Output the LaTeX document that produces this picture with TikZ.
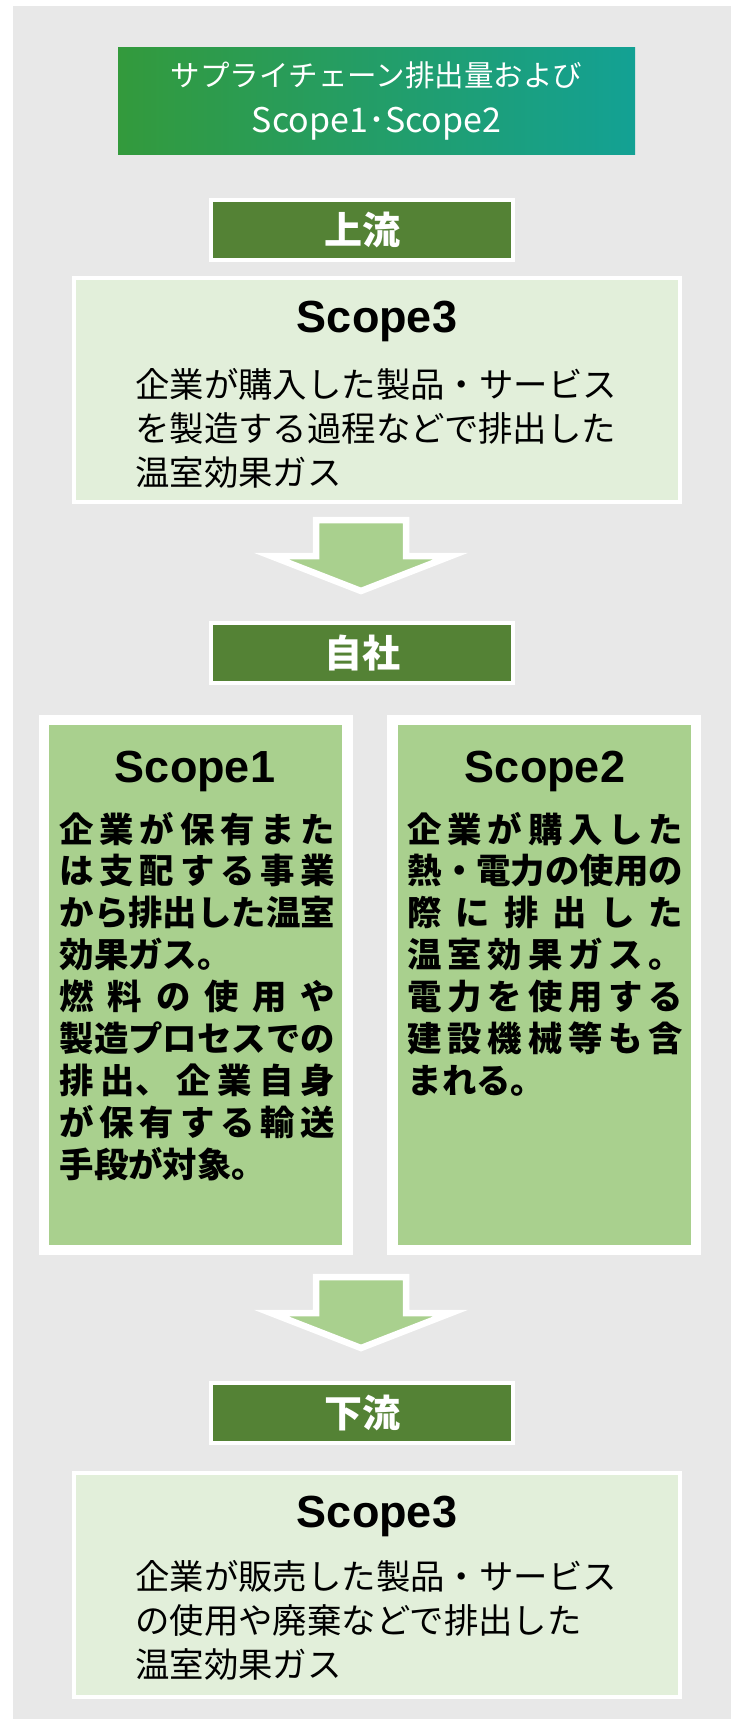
\documentclass[tikz,border=0pt]{standalone}
\usepackage{fontspec}
\setmainfont{Noto Sans CJK JP}
\newfontfamily\latinbold{Liberation Sans}
\definecolor{bggray}{HTML}{E8E8E8}
\definecolor{titleleft}{HTML}{339A3C}
\definecolor{titleright}{HTML}{13A194}
\definecolor{darkleaf}{HTML}{548235}
\definecolor{paleleaf}{HTML}{E2EFDA}
\definecolor{midleaf}{HTML}{A9D08E}
\def\spreadnext#1{\ifx#1\relax\else\ifx#1、\else\hfil\fi#1\expandafter\spreadnext\fi}
\def\spreadfirst#1{#1\spreadnext}
\newcommand\spread[1]{\makebox[8em][s]{\spreadfirst#1\relax}}

\begin{document}
\begin{tikzpicture}[x=1pt,y=-1pt,
	titlebox/.style={left color=titleleft,right color=titleright,minimum width=517pt,minimum height=107pt,inner sep=0pt,text=white,align=center,font=\fontsize{29.5}{46}\selectfont},
	stagebox/.style={draw=white,line width=4pt,fill=darkleaf,minimum width=302pt,minimum height=60pt,inner sep=0pt,text=white,font=\fontsize{38}{38}\selectfont\bfseries},
	scopewide/.style={draw=white,line width=4.5pt,fill=paleleaf,minimum width=606pt,minimum height=224pt,inner sep=0pt},
	scopetall/.style={draw=white,line width=10.5pt,fill=midleaf,minimum width=303.5pt,minimum height=530pt,inner sep=0pt},
	scopehead/.style={anchor=base,inner sep=0pt,font=\latinbold\fontsize{45}{45}\selectfont\bfseries},
	bodytext/.style={anchor=base west,inner sep=0pt,align=left,text width=482pt,font=\fontsize{34.4}{44}\selectfont},
	boldtext/.style={anchor=base west,inner sep=0pt,align=left,text width=276pt,font=\fontsize{34.4}{41.9}\selectfont\bfseries},
	flowarrow/.style={draw=white,line width=6.5pt,fill=midleaf}]
\useasboundingbox (0,0) rectangle (731,1719);
\fill[bggray] (13,6) rectangle (731,1719);

\node[titlebox] (title) at (376.5,100.5) {サプライチェーン排出量および\\{\fontsize{34}{46}\selectfont Scope1･Scope2}};

\node[stagebox] (up) at (362,230) {上流};
\node[scopewide] (s3up) at (376.75,390) {};
\node[scopehead] (s3uphead) at (377,332) {Scope3};
\node[bodytext] (s3uptext) at (135,397) {企業が購入した製品・サービス\\を製造する過程などで排出した\\温室効果ガス};

\coordinate (arrA) at (361,520);
\draw[flowarrow] (arrA) ++(-45,0) -- ++(0,36) -- ++(-45,0) -- ++(90,35) -- ++(90,-35) -- ++(-45,0) -- ++(0,-36) -- cycle;

\node[stagebox] (own) at (362,653) {自社};
\node[scopetall] (s1) at (195.5,984.75) {};
\node[scopehead] (s1head) at (195,782) {Scope1};
\node[boldtext] (s1text) at (59.5,842) {\spread{企業が保有また}\\\spread{は支配する事業}\\から排出した温室\\効果ガス。\\\spread{燃料の使用や}\\製造プロセスでの\\\spread{排出、企業自身}\\\spread{が保有する輸送}\\手段が対象。};
\node[scopetall] (s2) at (544,984.75) {};
\node[scopehead] (s2head) at (545,782) {Scope2};
\node[boldtext] (s2text) at (407.5,842) {\spread{企業が購入した}\\熱・電力の使用の\\\spread{際に排出した}\\\spread{温室効果ガス。}\\\spread{電力を使用する}\\\spread{建設機械等も含}\\まれる。};

\coordinate (arrB) at (361,1277);
\draw[flowarrow] (arrB) ++(-45,0) -- ++(0,36) -- ++(-45,0) -- ++(90,35) -- ++(90,-35) -- ++(-45,0) -- ++(0,-36) -- cycle;

\node[stagebox] (down) at (362,1413) {下流};
\node[scopewide] (s3down) at (376.75,1585) {};
\node[scopehead] (s3downhead) at (377,1527) {Scope3};
\node[bodytext] (s3downtext) at (135,1589) {企業が販売した製品・サービス\\の使用や廃棄などで排出した\\温室効果ガス};
\end{tikzpicture}
\end{document}
